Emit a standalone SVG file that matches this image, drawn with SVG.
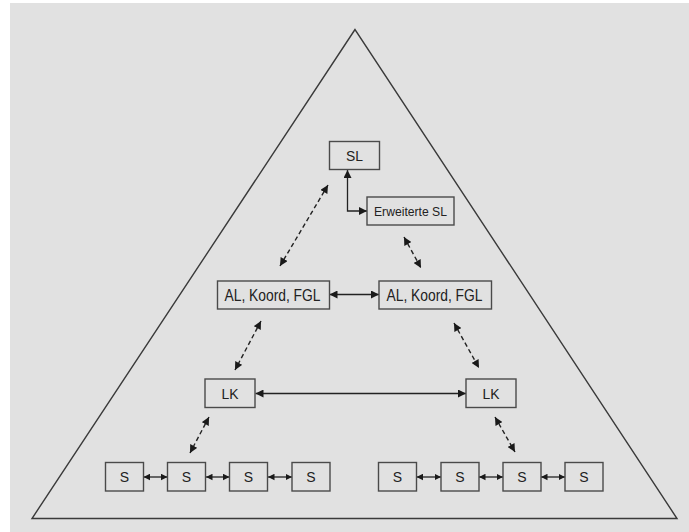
<svg xmlns="http://www.w3.org/2000/svg" width="689" height="532" viewBox="0 0 689 532">
  <defs>
    <marker id="ah" viewBox="0 0 10 10" refX="10" refY="5" markerWidth="8.5" markerHeight="8" markerUnits="userSpaceOnUse" orient="auto-start-reverse">
      <path d="M0,0 L10,5 L0,10 z" fill="#1a1a1a"/>
    </marker>
    <marker id="ahs" viewBox="0 0 10 10" refX="10" refY="5" markerWidth="6.5" markerHeight="7" markerUnits="userSpaceOnUse" orient="auto-start-reverse">
      <path d="M0,0 L10,5 L0,10 z" fill="#1a1a1a"/>
    </marker>
  </defs>
  <style>
    .box { fill: #e1e1e1; stroke: #4a4a4a; stroke-width: 1.4; }
    .lbl { font-family: "Liberation Sans", Arial, sans-serif; fill: #222; text-anchor: middle; }
    .solid { fill: none; stroke: #222; stroke-width: 1.3; marker-start: url(#ah); marker-end: url(#ah); }
    .short { fill: none; stroke: #222; stroke-width: 1.3; marker-start: url(#ahs); marker-end: url(#ahs); }
    .dash { fill: none; stroke: #222; stroke-width: 1.4; stroke-dasharray: 4.5 3; marker-start: url(#ah); marker-end: url(#ah); }
  </style>

  <!-- backdrop -->
  <rect x="0" y="0" width="689" height="532" fill="#ffffff"/>
  <rect x="10" y="3" width="679" height="529" fill="#e1e1e1"/>

  <!-- pyramid outline -->
  <polygon points="355,29.5 32,518.5 677,518.5" fill="none" stroke="#3a3a3a" stroke-width="1.4"/>

  <!-- connectors -->
  <g id="connectors">
    <polyline class="solid" points="347.5,170 347.5,211 367,211"/>
    <line class="dash" x1="328" y1="185" x2="280" y2="266"/>
    <line class="dash" x1="404" y1="237" x2="421" y2="268"/>
    <line class="solid" x1="329.5" y1="294.5" x2="379" y2="294.5"/>
    <line class="dash" x1="261" y1="321" x2="235" y2="370"/>
    <line class="dash" x1="454" y1="323" x2="479" y2="368"/>
    <line class="solid" x1="255.5" y1="393.5" x2="466" y2="393.5"/>
    <line class="dash" x1="209" y1="417" x2="190" y2="453"/>
    <line class="dash" x1="495" y1="417" x2="515" y2="452"/>
    <line class="short" x1="143.5" y1="477" x2="167.5" y2="477"/>
    <line class="short" x1="206" y1="477" x2="229.5" y2="477"/>
    <line class="short" x1="268" y1="477" x2="292" y2="477"/>
    <line class="short" x1="416.5" y1="477" x2="441" y2="477"/>
    <line class="short" x1="479" y1="477" x2="503" y2="477"/>
    <line class="short" x1="541" y1="477" x2="565" y2="477"/>
  </g>

  <!-- nodes -->
  <g id="sl">
    <rect class="box" x="329.5" y="141.5" width="50" height="28"/>
    <text class="lbl" x="354.5" y="161" font-size="15.5" textLength="17" lengthAdjust="spacingAndGlyphs">SL</text>
  </g>
  <g id="erweiterte-sl">
    <rect class="box" x="367" y="197" width="87" height="28"/>
    <text class="lbl" x="410.5" y="216" font-size="13.5" textLength="73" lengthAdjust="spacingAndGlyphs">Erweiterte SL</text>
  </g>
  <g id="al-left">
    <rect class="box" x="217.5" y="281" width="112" height="28"/>
    <text class="lbl" x="272.5" y="300.5" font-size="16" textLength="96" lengthAdjust="spacingAndGlyphs">AL, Koord, FGL</text>
  </g>
  <g id="al-right">
    <rect class="box" x="379" y="281" width="112.5" height="28"/>
    <text class="lbl" x="434.5" y="300.5" font-size="16" textLength="96" lengthAdjust="spacingAndGlyphs">AL, Koord, FGL</text>
  </g>
  <g id="lk-left">
    <rect class="box" x="205" y="379" width="50" height="28.5"/>
    <text class="lbl" x="230" y="398.5" font-size="15.5" textLength="17" lengthAdjust="spacingAndGlyphs">LK</text>
  </g>
  <g id="lk-right">
    <rect class="box" x="466" y="379" width="50" height="28.5"/>
    <text class="lbl" x="491" y="398.5" font-size="15.5" textLength="17" lengthAdjust="spacingAndGlyphs">LK</text>
  </g>
  <g id="s1">
    <rect class="box" x="105.5" y="462.5" width="38" height="28.5"/>
    <text class="lbl" x="124.5" y="482" font-size="14">S</text>
  </g>
  <g id="s2">
    <rect class="box" x="167.5" y="462.5" width="38" height="28.5"/>
    <text class="lbl" x="186.5" y="482" font-size="14">S</text>
  </g>
  <g id="s3">
    <rect class="box" x="229.5" y="462.5" width="38" height="28.5"/>
    <text class="lbl" x="248.5" y="482" font-size="14">S</text>
  </g>
  <g id="s4">
    <rect class="box" x="292" y="462.5" width="38" height="28.5"/>
    <text class="lbl" x="311" y="482" font-size="14">S</text>
  </g>
  <g id="s5">
    <rect class="box" x="378.5" y="462.5" width="38" height="28.5"/>
    <text class="lbl" x="397.5" y="482" font-size="14">S</text>
  </g>
  <g id="s6">
    <rect class="box" x="441" y="462.5" width="38" height="28.5"/>
    <text class="lbl" x="460" y="482" font-size="14">S</text>
  </g>
  <g id="s7">
    <rect class="box" x="503" y="462.5" width="38" height="28.5"/>
    <text class="lbl" x="522" y="482" font-size="14">S</text>
  </g>
  <g id="s8">
    <rect class="box" x="565" y="462.5" width="38" height="28.5"/>
    <text class="lbl" x="584" y="482" font-size="14">S</text>
  </g>
</svg>
